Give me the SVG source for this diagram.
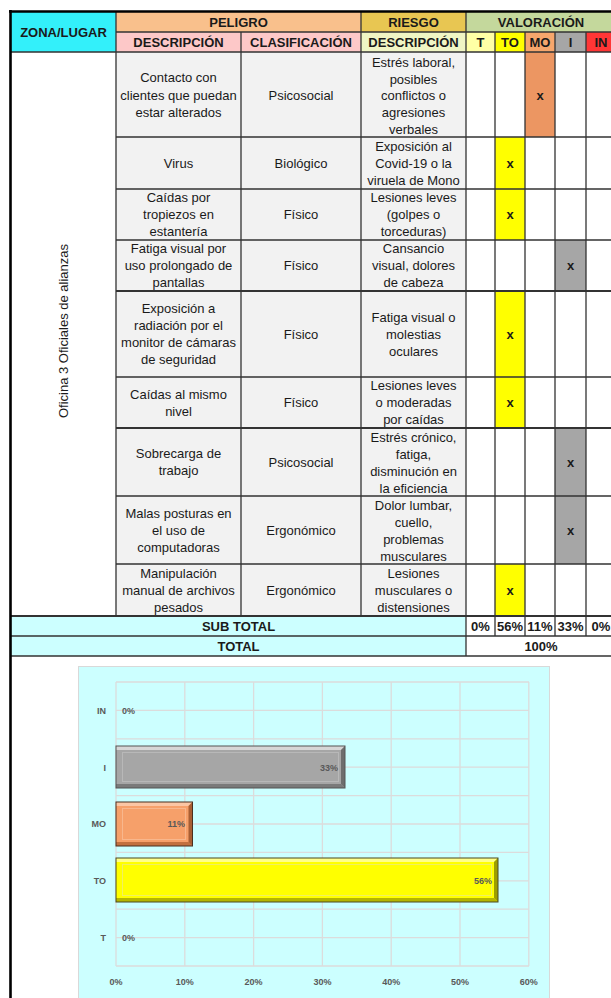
<svg xmlns="http://www.w3.org/2000/svg" width="611" height="998" viewBox="0 0 611 998">
<defs>
<style>
.t{font-family:"Liberation Sans",Arial,sans-serif;font-size:13px;fill:#1a1a1a;text-anchor:middle}
.b{font-weight:bold}
.gl{stroke:#333;stroke-width:1.3;fill:none}
.gt{stroke:#333;stroke-width:2;fill:none}
.c{font-family:"Liberation Sans",Arial,sans-serif;font-size:9px;font-weight:bold;fill:#595959}
.grid{stroke:#dcdcdc;stroke-width:1.3;fill:none}
</style>
</defs>
<rect width="611" height="998" fill="#ffffff"/>

<g id="table">
  <rect x="11" y="12" width="105" height="40" fill="#33F0FA"/>
  <rect x="116" y="12" width="245" height="20" fill="#F9C08C"/>
  <rect x="116" y="32" width="245" height="20" fill="#FDC8C8"/>
  <rect x="361" y="12" width="105" height="20" fill="#E8C652"/>
  <rect x="361" y="32" width="105" height="20" fill="#F0F5C4"/>
  <rect x="466" y="12" width="150" height="20" fill="#C4D89C"/>
  <rect x="466" y="32" width="29" height="20" fill="#FFFFA6"/>
  <rect x="495" y="32" width="30" height="20" fill="#FFFF00"/>
  <rect x="525" y="32" width="30" height="20" fill="#F6A66C"/>
  <rect x="555" y="32" width="31" height="20" fill="#A6A6A6"/>
  <rect x="586" y="32" width="30" height="20" fill="#FF3636"/>
  <rect x="116" y="52" width="350" height="564" fill="#F2F2F2"/>
  <rect x="525" y="52" width="30" height="85" fill="#EC9662"/>
  <rect x="495" y="137" width="30" height="103" fill="#FFFF00"/>
  <rect x="555" y="240" width="31" height="51" fill="#A6A6A6"/>
  <rect x="495" y="291" width="30" height="137" fill="#FFFF00"/>
  <rect x="555" y="428" width="31" height="136" fill="#A6A6A6"/>
  <rect x="495" y="564" width="30" height="52" fill="#FFFF00"/>
  <rect x="11" y="616" width="455" height="40" fill="#CCFFFF"/>

  <path class="gl" d="M116 32H616M11 52H616M116 137H616M116 189H616M116 240H616M116 564H616M116 377H616M116 496H616M11 636H616M11 656H611"/>
  <path class="gt" d="M116 291H616M116 428H616M11 616H616"/>
  <path class="gl" d="M116 12V616M241 32V616M361 12V616M466 12V656M495 32V636M525 32V636M555 32V636M586 32V636M616 12V656"/>
  <path d="M10.5 10V998M9 11.5H611" stroke="#000" stroke-width="2.6" fill="none"/>

  <text class="t b" x="63.5" y="36.5">ZONA/LUGAR</text>
  <text class="t b" x="238.5" y="26.5">PELIGRO</text>
  <text class="t b" x="413.5" y="26.5">RIESGO</text>
  <text class="t b" x="541" y="26.5">VALORACIÓN</text>
  <text class="t b" x="178.5" y="46.5">DESCRIPCIÓN</text>
  <text class="t b" x="301" y="46.5">CLASIFICACIÓN</text>
  <text class="t b" x="413.5" y="46.5">DESCRIPCIÓN</text>
  <text class="t b" x="480.5" y="46.5">T</text>
  <text class="t b" x="510" y="46.5">TO</text>
  <text class="t b" x="540" y="46.5">MO</text>
  <text class="t b" x="570.5" y="46.5">I</text>
  <text class="t b" x="601" y="46.5">IN</text>

  <text class="t" transform="translate(67.5 331) rotate(-90)">Oficina 3 Oficiales de alianzas</text>

  <text class="t" x="178.5" y="82">Contacto con</text>
  <text class="t" x="178.5" y="99.5">clientes que puedan</text>
  <text class="t" x="178.5" y="117">estar alterados</text>
  <text class="t" x="301" y="99.5">Psicosocial</text>
  <text class="t" x="413.5" y="66.5">Estrés laboral,</text>
  <text class="t" x="413.5" y="83.5">posibles</text>
  <text class="t" x="413.5" y="100">conflictos o</text>
  <text class="t" x="413.5" y="116.5">agresiones</text>
  <text class="t" x="413.5" y="133.5">verbales</text>
  <text class="t b" x="540" y="99.5">x</text>

  <text class="t" x="178.5" y="167.5">Virus</text>
  <text class="t" x="301" y="167.5">Biológico</text>
  <text class="t" x="413.5" y="150.5">Exposición al</text>
  <text class="t" x="413.5" y="167.5">Covid-19 o la</text>
  <text class="t" x="413.5" y="184.5">viruela de Mono</text>
  <text class="t b" x="510" y="167.5">x</text>

  <text class="t" x="178.5" y="201.5">Caídas por</text>
  <text class="t" x="178.5" y="218.5">tropiezos en</text>
  <text class="t" x="178.5" y="235.5">estantería</text>
  <text class="t" x="301" y="218.5">Físico</text>
  <text class="t" x="413.5" y="201.5">Lesiones leves</text>
  <text class="t" x="413.5" y="218.5">(golpes o</text>
  <text class="t" x="413.5" y="235.5">torceduras)</text>
  <text class="t b" x="510" y="218.5">x</text>

  <text class="t" x="178.5" y="252.5">Fatiga visual por</text>
  <text class="t" x="178.5" y="269.5">uso prolongado de</text>
  <text class="t" x="178.5" y="286.5">pantallas</text>
  <text class="t" x="301" y="269.5">Físico</text>
  <text class="t" x="413.5" y="252.5">Cansancio</text>
  <text class="t" x="413.5" y="269.5">visual, dolores</text>
  <text class="t" x="413.5" y="286.5">de cabeza</text>
  <text class="t b" x="570.5" y="269.5">x</text>

  <text class="t" x="178.5" y="312.5">Exposición a</text>
  <text class="t" x="178.5" y="329.5">radiación por el</text>
  <text class="t" x="178.5" y="346.5">monitor de cámaras</text>
  <text class="t" x="178.5" y="363.5">de seguridad</text>
  <text class="t" x="301" y="338.5">Físico</text>
  <text class="t" x="413.5" y="321.5">Fatiga visual o</text>
  <text class="t" x="413.5" y="338.5">molestias</text>
  <text class="t" x="413.5" y="355.5">oculares</text>
  <text class="t b" x="510" y="338.5">x</text>

  <text class="t" x="178.5" y="398.5">Caídas al mismo</text>
  <text class="t" x="178.5" y="415.5">nivel</text>
  <text class="t" x="301" y="406.5">Físico</text>
  <text class="t" x="413.5" y="389.5">Lesiones leves</text>
  <text class="t" x="413.5" y="406.5">o moderadas</text>
  <text class="t" x="413.5" y="423.5">por caídas</text>
  <text class="t b" x="510" y="406.5">x</text>

  <text class="t" x="178.5" y="457.5">Sobrecarga de</text>
  <text class="t" x="178.5" y="474.5">trabajo</text>
  <text class="t" x="301" y="466.5">Psicosocial</text>
  <text class="t" x="413.5" y="441.5">Estrés crónico,</text>
  <text class="t" x="413.5" y="458.5">fatiga,</text>
  <text class="t" x="413.5" y="475.5">disminución en</text>
  <text class="t" x="413.5" y="492.5">la eficiencia</text>
  <text class="t b" x="570.5" y="466.5">x</text>

  <text class="t" x="178.5" y="517.5">Malas posturas en</text>
  <text class="t" x="178.5" y="534.5">el uso de</text>
  <text class="t" x="178.5" y="551.5">computadoras</text>
  <text class="t" x="301" y="534.5">Ergonómico</text>
  <text class="t" x="413.5" y="509.5">Dolor lumbar,</text>
  <text class="t" x="413.5" y="526.5">cuello,</text>
  <text class="t" x="413.5" y="543.5">problemas</text>
  <text class="t" x="413.5" y="560.5">musculares</text>
  <text class="t b" x="570.5" y="534.5">x</text>

  <text class="t" x="178.5" y="577.5">Manipulación</text>
  <text class="t" x="178.5" y="594.5">manual de archivos</text>
  <text class="t" x="178.5" y="611.5">pesados</text>
  <text class="t" x="301" y="594.5">Ergonómico</text>
  <text class="t" x="413.5" y="577.5">Lesiones</text>
  <text class="t" x="413.5" y="594.5">musculares o</text>
  <text class="t" x="413.5" y="611.5">distensiones</text>
  <text class="t b" x="510" y="594.5">x</text>

  <text class="t b" x="238.5" y="630.5">SUB TOTAL</text>
  <text class="t b" x="480.5" y="630.5">0%</text>
  <text class="t b" x="510" y="630.5">56%</text>
  <text class="t b" x="540" y="630.5">11%</text>
  <text class="t b" x="570.5" y="630.5">33%</text>
  <text class="t b" x="601" y="630.5">0%</text>
  <text class="t b" x="238.5" y="650.5">TOTAL</text>
  <text class="t b" x="541" y="650.5">100%</text>
</g>

<g id="chart">
  <rect x="78.5" y="666.5" width="471" height="340" fill="#CCFFFF" stroke="#d9d9d9" stroke-width="1"/>
  <path class="grid" d="M116 682H529M116 710.4H529M116 738.8H529M116 767.2H529M116 795.6H529M116 824H529M116 852.4H529M116 880.8H529M116 909.2H529M116 937.6H529M116 966H529"/>
  <path class="grid" d="M116 682V966M184.8 682V966M253.6 682V966M322.4 682V966M391.2 682V966M460 682V966M528.8 682V966"/>

  <g id="bar-I">
    <rect x="116" y="746" width="229" height="42" fill="#A6A6A6"/>
    <polygon points="116,746 345,746 341,750 116,750" fill="#D6D6D6"/>
    <polygon points="116,788 345,788 341,784 116,784" fill="#7A7A7A"/>
    <polygon points="345,746 345,788 341,784 341,750" fill="#6E6E6E"/>
    <rect x="122.5" y="752.5" width="216" height="29" fill="none" stroke="#B8B8B8" stroke-width="1"/>
    <rect x="116" y="746" width="229" height="42" fill="none" stroke="#555" stroke-width="1"/>
  </g>
  <g id="bar-MO">
    <rect x="116" y="802" width="76.5" height="44" fill="#F6A06A"/>
    <polygon points="116,802 192.5,802 188.5,806 116,806" fill="#FBC6A4"/>
    <polygon points="116,846 192.5,846 188.5,842 116,842" fill="#C2703F"/>
    <polygon points="192.5,802 192.5,846 188.5,842 188.5,806" fill="#A85E33"/>
    <rect x="122.5" y="808.5" width="63" height="31" fill="none" stroke="#F8B78D" stroke-width="1"/>
    <rect x="116" y="802" width="76.5" height="44" fill="none" stroke="#4a3020" stroke-width="1"/>
  </g>
  <g id="bar-TO">
    <rect x="116" y="858" width="382" height="44" fill="#FFFF00"/>
    <polygon points="116,858 498,858 494,862 116,862" fill="#FFFF8A"/>
    <polygon points="116,902 498,902 494,898 116,898" fill="#B5B500"/>
    <polygon points="498,858 498,902 494,898 494,862" fill="#9E9E00"/>
    <rect x="122.5" y="864.5" width="369" height="31" fill="none" stroke="#F0F060" stroke-width="1"/>
    <rect x="116" y="858" width="382" height="44" fill="none" stroke="#4a4a20" stroke-width="1"/>
  </g>

  <text class="c" x="338" y="771" text-anchor="end">33%</text>
  <text class="c" x="185" y="827" text-anchor="end">11%</text>
  <text class="c" x="492" y="884" text-anchor="end">56%</text>
  <text class="c" x="122" y="714">0%</text>
  <text class="c" x="122" y="941">0%</text>

  <text class="c" x="106" y="714" text-anchor="end">IN</text>
  <text class="c" x="106" y="771" text-anchor="end">I</text>
  <text class="c" x="106" y="827" text-anchor="end">MO</text>
  <text class="c" x="106" y="884" text-anchor="end">TO</text>
  <text class="c" x="106" y="941" text-anchor="end">T</text>

  <text class="c" x="116" y="985" text-anchor="middle">0%</text>
  <text class="c" x="184.8" y="985" text-anchor="middle">10%</text>
  <text class="c" x="253.6" y="985" text-anchor="middle">20%</text>
  <text class="c" x="322.4" y="985" text-anchor="middle">30%</text>
  <text class="c" x="391.2" y="985" text-anchor="middle">40%</text>
  <text class="c" x="460" y="985" text-anchor="middle">50%</text>
  <text class="c" x="528.8" y="985" text-anchor="middle">60%</text>
</g>
</svg>
